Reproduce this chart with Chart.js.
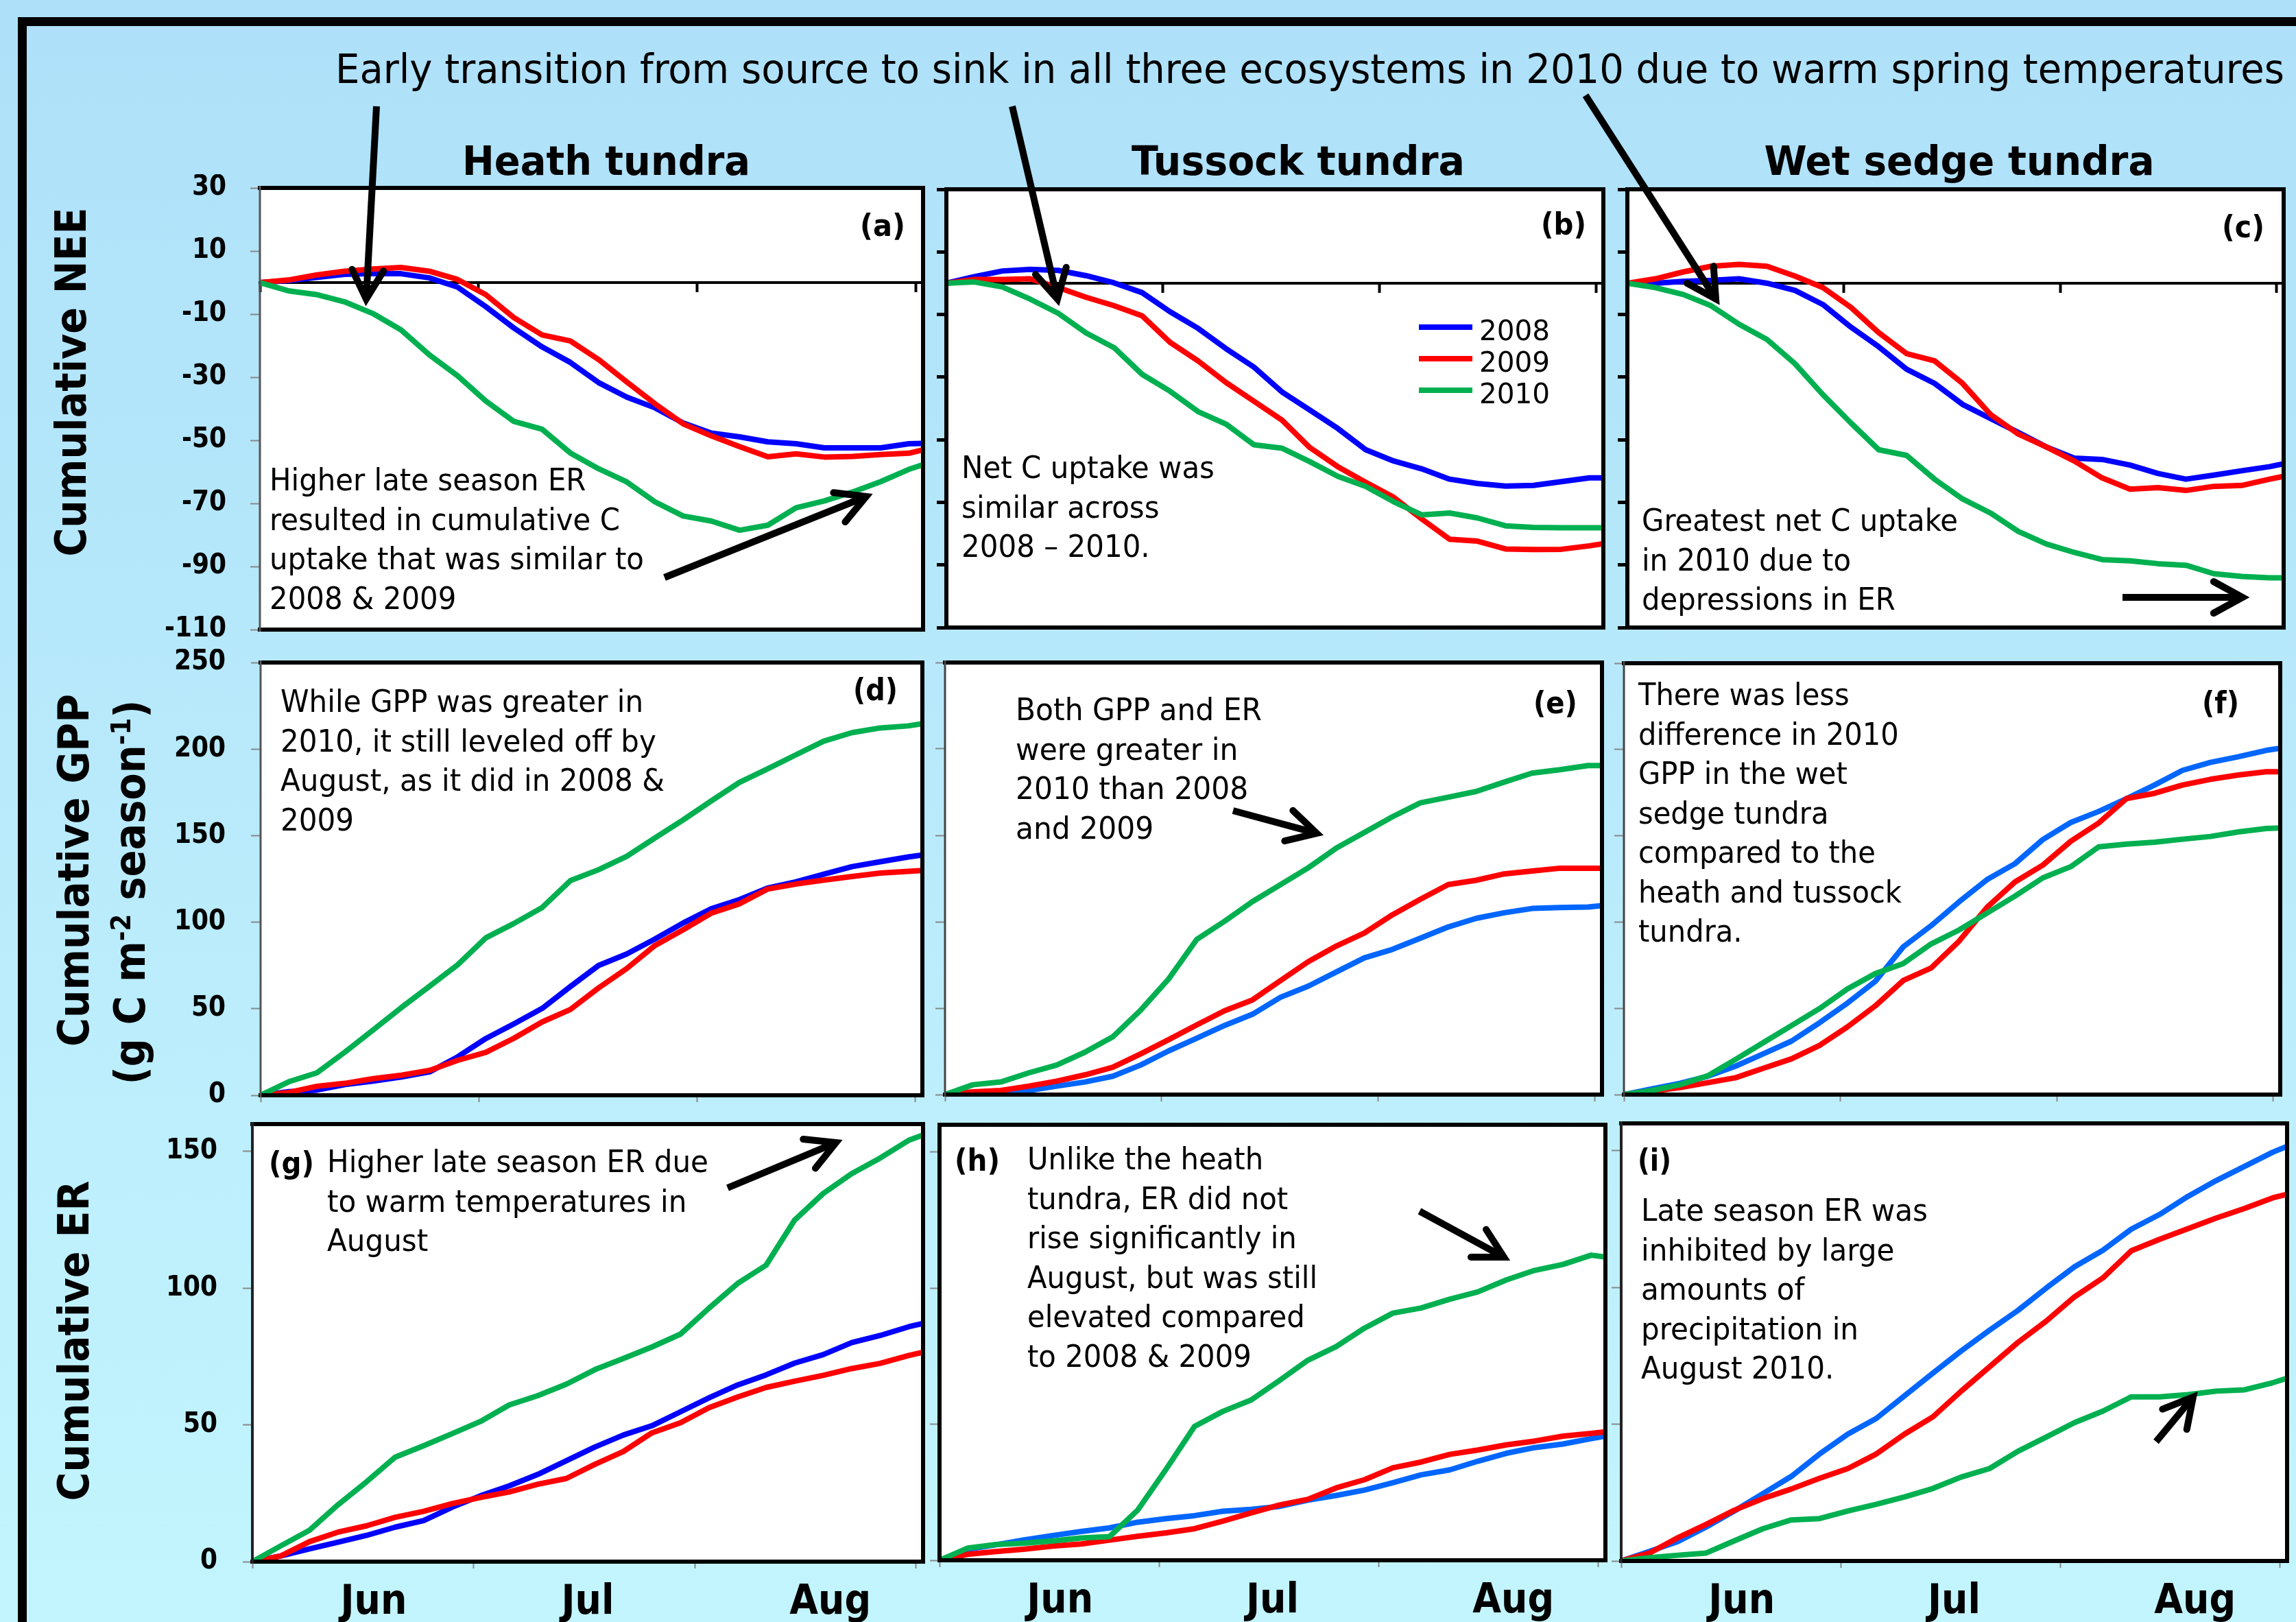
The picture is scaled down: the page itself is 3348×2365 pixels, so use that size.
<!DOCTYPE html>
<html>
<head>
<meta charset="utf-8">
<script src="https://cdn.jsdelivr.net/npm/chart.js@4.4.1/dist/chart.umd.min.js"></script>
<style>
html,body{margin:0;padding:0;}
body{width:3348px;height:2365px;overflow:hidden;position:relative;background:linear-gradient(to bottom,#aee0f9,#c3f5fe);}
.frame{position:absolute;left:26px;top:25px;width:4000px;height:4000px;border-left:13px solid #000;border-top:13px solid #000;}
canvas{position:absolute;}
.t{position:absolute;white-space:pre;color:#000;transform-origin:0 0;}
.sw{position:absolute;height:8px;}
</style>
</head>
<body>
<div class="frame"></div>
<div id="charts"></div>
<svg id="arrows" width="3348" height="2365" style="position:absolute;left:0;top:0;"></svg>
<script>
// ---------------- DATA ----------------
const days = [0,4,8,12,16,20,24,28,32,36,40,44,48,52,56,60,64,68,72,76,80,84,88,92,94];
const years = ['2008','2009','2010'];
const monthNames = ['Jun','Jul','Aug'];
const monthPos = [17,47,81];
const monthTicks = [0,31,62,93];
const neeTicks = [30,10,-10,-30,-50,-70,-90,-110];
const gppTicks = [0,50,100,150,200,250];
const erTicks = [0,50,100,150];

// Cumulative NEE
const heathNEE2008 = [0,0.6,1.6,2.6,2.9,2.8,1.5,-1.4,-7.6,-14.4,-20.4,-25.3,-31.7,-36.3,-39.7,-44.5,-47.7,-48.9,-50.5,-51.1,-52.4,-52.4,-52.4,-51.1,-51];
const heathNEE2009 = [0,0.8,2.4,3.6,4.3,4.8,3.6,1.0,-3.8,-11.1,-16.6,-18.5,-24.4,-31.5,-38.4,-44.8,-48.6,-52,-55.2,-54.3,-55.3,-55.1,-54.5,-54.1,-53];
const heathNEE2010 = [0,-2.6,-3.8,-6.1,-9.8,-15,-22.9,-29.5,-37.5,-44,-46.5,-54,-59,-63.2,-69.5,-74,-75.6,-78.5,-76.9,-71.4,-69.2,-66.4,-63.1,-59.2,-57.7];
const tussockNEE2008 = [0,2.1,3.9,4.4,4.1,2.4,0.1,-3,-9.1,-14.4,-20.9,-26.8,-34.7,-40.5,-46.4,-53.2,-56.8,-59.3,-62.6,-64,-64.8,-64.6,-63.4,-62.2,-62.2];
const tussockNEE2009 = [0,1.2,1.2,1.4,-1.4,-4.5,-7.2,-10.4,-18.9,-24.8,-31.7,-37.7,-43.7,-52.5,-58.6,-63.6,-68.4,-75.3,-81.8,-82.4,-84.9,-85.1,-85,-83.9,-83.2];
const tussockNEE2010 = [0,0.4,-1.2,-5.1,-9.6,-15.9,-20.6,-29.1,-34.5,-41,-45,-51.6,-52.7,-57,-61.7,-64.9,-69.8,-74,-73.4,-75,-77.5,-78,-78.1,-78.1,-78.1];
const sedgeNEE2008 = [0,0,0.6,0.9,1.4,0,-2.3,-6.8,-14,-20.3,-27.5,-32,-38.7,-43.2,-47.7,-52.3,-55.9,-56.3,-58.1,-60.8,-62.6,-61.3,-59.9,-58.6,-57.7];
const sedgeNEE2009 = [0,1.4,3.6,5.4,6,5.4,2.3,-1.4,-7.7,-15.8,-22.5,-24.8,-32,-41.9,-48.2,-52.3,-56.8,-62.2,-65.8,-65.3,-66.2,-64.9,-64.6,-62.6,-61.7];
const sedgeNEE2010 = [0,-1.4,-3.6,-7.2,-13.1,-18,-25.7,-35.6,-44.6,-53.2,-55,-62.6,-68.9,-73.4,-79.3,-83.3,-86,-88.3,-88.7,-89.6,-90.1,-92.8,-93.7,-94.1,-94.1];

// Cumulative GPP
const heathGPP2008 = [0,2.1,3,6.2,8.2,10.6,13.5,22.2,32.8,41.3,50.2,62.8,75,81.6,90.2,99.5,107.7,113,119.7,123.3,127.7,132.1,134.9,137.7,138.8];
const heathGPP2009 = [0,1.6,5.2,6.9,9.6,11.6,14.4,20.2,24.8,33,42.4,49.6,62,73.2,86.5,95.6,105.2,110.6,119.1,122,124.3,126.4,128.4,129.4,129.9];
const heathGPP2010 = [0,7.8,13,25,37.8,50.7,63,75.4,91,99.3,108.5,124,130.3,138,148.6,159,170,180.7,188.5,196.6,204.6,209.5,212.2,213.4,214.7];
const tussockGPP2008 = [0,0,0.8,2.4,4.9,7.3,10.6,17.1,25.3,32.6,40,46.5,56.3,62.8,71,79.1,84,90.5,97,102,105.2,107.7,108.2,108.5,109.3];
const tussockGPP2009 = [0,1.6,2.4,4.9,7.8,11.4,15.8,23.6,31.8,40.3,48.5,54.8,66,77,86,93.5,104,113,121.5,124,127.7,129.4,131,131,131];
const tussockGPP2010 = [0,5.7,7.3,12.6,17.1,24.5,33.4,48.9,66.9,89.7,100.3,111.7,121.5,131.3,142.7,151.7,160.7,168.8,172.1,175.4,180.8,186,188,190.4,190.4];
const sedgeGPP2008 = [0,3.3,6.5,10.6,16.5,23.7,31,41.6,53,65.6,85.6,97.9,111.7,124.6,133.8,147.8,157.7,164.1,171.6,179.4,187.9,192.5,195.8,199.5,200.7];
const sedgeGPP2009 = [0,2,4.1,6.9,9.8,15.3,20.7,28.5,39.2,51.4,66.1,73.4,88.9,108.5,123.2,133,146.8,157.4,171.6,174.6,179.4,182.7,185.2,187.1,187.1];
const sedgeGPP2010 = [0,2.4,5.7,10.9,20.4,30.2,40,49.8,61.2,70.1,75.9,87.3,95.4,105.2,115,125.6,132.1,143.6,145.2,146.3,148,149.6,152.2,154.2,154.5];

// Cumulative ER
const heathER2008 = [0,2.1,4.7,7.1,9.6,12.6,15,19.9,24.1,27.7,31.9,36.9,41.9,46.3,49.7,54.8,59.9,64.6,68.3,72.6,75.7,80.1,82.7,85.9,87.1];
const heathER2009 = [0,2.1,7.3,10.8,13.1,16.2,18.4,21.2,23.5,25.5,28.3,30.4,35.6,40.3,47.1,50.8,56.3,60.2,63.7,66,68.1,70.6,72.5,75.4,76.6];
const heathER2010 = [0,5.8,11.5,20.8,29.2,38.2,42.4,46.8,51.3,57.3,60.7,64.9,70.2,74.3,78.5,83.2,92.7,101.7,108.4,124.9,134.6,141.9,147.6,154.1,156];
const tussockER2008 = [0,4,5.7,7.5,9.1,10.6,11.9,14,15.3,16.4,18,18.7,19.8,22.1,23.8,25.8,28.5,31.4,33.2,36.4,39.3,41.4,42.7,44.7,45.6];
const tussockER2009 = [0,2.2,3.2,4.1,5.2,6,7.4,8.8,10.1,11.6,14.4,17.4,20.3,22.4,26.6,29.6,34,36.1,38.9,40.5,42.4,43.8,45.6,46.6,47.2];
const tussockER2010 = [0,4.5,5.8,6.3,7.1,8.2,8.7,18.5,33.5,49.2,54.7,58.9,66.1,73.5,78.5,85.3,90.8,92.7,95.9,98.6,103,106.5,108.7,112.1,111.4];
const sedgeER2008 = [0,3.5,7.1,12.4,18.3,24.6,30.9,39.1,46.4,52.1,60.4,68.7,76.8,84.4,91.6,99.8,107.6,113.6,121.3,126.7,133.3,139.1,144.3,149.5,151.6];
const sedgeER2009 = [0,2.9,8.5,13.4,18.6,22.8,26.3,30.2,33.8,39.1,46.4,52.7,62.1,71,79.9,87.7,96.6,103.5,113.4,117.6,121.5,125.4,128.9,132.8,134.1];
const sedgeER2010 = [0,1.2,2.1,2.9,7.4,11.8,15,15.5,18.3,20.7,23.4,26.5,30.7,33.8,40.1,45.3,50.6,54.8,60,60,60.8,62.1,62.6,65.2,66.8];

// ---------------- LAYOUT ----------------
const FONT = "'DejaVu Sans Condensed','DejaVu Sans',sans-serif";
const GREEN = '#00b050', RED = '#ff0000';
const rowY = [
  {min:-110, max:30, ticks:neeTicks},
  {min:0, max:250, ticks:gppTicks},
  {min:0, max:160, ticks:erTicks}
];
const panels = [
  {L:379, T:274, R:1346, B:918, row:0, col:0, series:[heathNEE2008,heathNEE2009,heathNEE2010], blue:'#0000ff', leftW:3, leftC:'#555'},
  {L:1380,T:276, R:2338, B:915, row:0, col:1, series:[tussockNEE2008,tussockNEE2009,tussockNEE2010], blue:'#0000ff', leftW:6, leftC:'#000'},
  {L:2373,T:276, R:3330, B:915, row:0, col:2, series:[sedgeNEE2008,sedgeNEE2009,sedgeNEE2010], blue:'#0000ff', leftW:6, leftC:'#000'},
  {L:380, T:966, R:1345, B:1597,row:1, col:0, series:[heathGPP2008,heathGPP2009,heathGPP2010], blue:'#0000ff', leftW:3, leftC:'#555'},
  {L:1378,T:966, R:2336, B:1596,row:1, col:1, series:[tussockGPP2008,tussockGPP2009,tussockGPP2010], blue:'#0066ff', leftW:3, leftC:'#444'},
  {L:2368,T:967, R:3325, B:1596,row:1, col:2, series:[sedgeGPP2008,sedgeGPP2009,sedgeGPP2010], blue:'#0066ff', leftW:3, leftC:'#444'},
  {L:368, T:1639,R:1346, B:2277,row:2, col:0, series:[heathER2008,heathER2009,heathER2010], blue:'#0000ff', leftW:4, leftC:'#222'},
  {L:1370,T:1640,R:2341, B:2275,row:2, col:1, series:[tussockER2008,tussockER2009,tussockER2010], blue:'#0066ff', leftW:6, leftC:'#000'},
  {L:2364,T:1638,R:3335, B:2276,row:2, col:2, series:[sedgeER2008,sedgeER2009,sedgeER2010], blue:'#0066ff', leftW:4, leftC:'#222'}
];

const framePlugin = {
  id: 'panelFrame',
  beforeDraw(chart) {
    const {ctx, chartArea: c} = chart;
    ctx.save(); ctx.fillStyle = '#fff';
    ctx.fillRect(c.left, c.top, c.right - c.left, c.bottom - c.top);
    ctx.restore();
  },
  afterDraw(chart, args, o) {
    const {ctx, chartArea: c} = chart;
    ctx.save();
    ctx.strokeStyle = '#000'; ctx.lineWidth = 6; ctx.lineCap = 'square';
    ctx.beginPath();
    ctx.moveTo(c.left, c.top); ctx.lineTo(c.right, c.top);
    ctx.lineTo(c.right, c.bottom); ctx.lineTo(c.left, c.bottom);
    ctx.stroke();
    ctx.strokeStyle = o.leftC; ctx.lineWidth = o.leftW; ctx.lineCap = 'butt';
    ctx.beginPath(); ctx.moveTo(c.left, c.top - 3); ctx.lineTo(c.left, c.bottom + 3); ctx.stroke();
    ctx.restore();
  }
};

function noPad(s) { s.paddingTop = 0; s.paddingBottom = 0; s.paddingLeft = 0; s.paddingRight = 0; }

function build(p) {
  const ML = p.col === 0 ? 360 : 40, MT = 20, MR = 20;
  const MB = p.row === 2 ? 2365 - p.B : 30;
  const W = p.R - p.L + ML + MR, H = p.B - p.T + MT + MB;
  const cv = document.createElement('canvas');
  cv.width = W; cv.height = H;
  Object.assign(cv.style, {left:(p.L - ML) + 'px', top:(p.T - MT) + 'px', width:W + 'px', height:H + 'px'});
  document.getElementById('charts').appendChild(cv);
  const yr = rowY[p.row];
  const isNEE = p.row === 0;
  const darkY = isNEE && p.col > 0;
  const scales = {
    x: {
      type:'linear', min:0, max:94, position: isNEE ? {y:0} : 'bottom', weight:0,
      afterBuildTicks: s => { s.ticks = monthTicks.map(v => ({value:v})); },
      afterFit: s => { noPad(s); if (!isNEE) s.height = (p.row === 2 ? 14 : MB); },
      grid: {drawOnChartArea:false, drawTicks:true, tickLength: isNEE ? 12 : 10, tickWidth: isNEE ? 4 : 2, tickColor: isNEE ? '#000' : '#888'},
      border: {display:true, color: isNEE ? '#000' : '#888', width: isNEE ? 4 : 2},
      ticks: {display:false}
    },
    y: {
      type:'linear', min:yr.min, max:yr.max, position:'left',
      afterBuildTicks: s => { s.ticks = yr.ticks.map(v => ({value:v})); },
      afterFit: s => { noPad(s); s.width = ML; },
      grid: {drawOnChartArea:false, drawTicks:true, tickLength:14, tickWidth: darkY ? 5 : 2, tickColor: darkY ? '#000' : '#888'},
      border: {display:false},
      ticks: {display: p.col === 0, autoSkip:false, padding: p.row === 0 ? 35 : 37, color:'#000',
              font:{family:FONT, size:40, weight:'bold'}}
    }
  };
  if (p.row === 2) {
    scales.xm = {
      type:'linear', axis:'x', min:0, max:94, position:'bottom', weight:1,
      afterBuildTicks: s => { s.ticks = monthPos.map(v => ({value:v})); },
      afterFit: s => { noPad(s); s.height = MB - 14; },
      grid: {display:false, drawTicks:false, tickLength:0},
      border: {display:false},
      ticks: {autoSkip:false, maxRotation:0, padding:10, color:'#000',
              font:{family:FONT, size:60, weight:'bold'},
              callback: (v, i) => monthNames[i]}
    };
  }
  new Chart(cv, {
    type:'line',
    data: {
      datasets: p.series.map((arr, k) => ({
        label: years[k],
        data: arr.map((v, i) => ({x: days[i], y: v})),
        borderColor: k === 0 ? p.blue : (k === 1 ? RED : GREEN),
        borderWidth: 8, pointRadius: 0, tension: 0, fill: false,
        borderJoinStyle:'round', borderCapStyle:'round',
        order: 2 - k
      }))
    },
    options: {
      responsive:false, animation:false, devicePixelRatio:1,
      layout: {padding: {top:MT, right:MR, left:0, bottom: isNEE ? MB : 0}},
      plugins: {legend:{display:false}, tooltip:{enabled:false}, panelFrame:{leftW:p.leftW, leftC:p.leftC}},
      scales
    },
    plugins:[framePlugin]
  });
}
panels.forEach(build);

// ---------------- TEXT ----------------
function addText(html, o) {
  const d = document.createElement('div');
  d.className = 't';
  d.innerHTML = html;
  const lh = o.lh || o.size;
  d.style.font = (o.bold ? 'bold ' : '') + o.size + 'px ' + FONT;
  d.style.lineHeight = lh + 'px';
  document.body.appendChild(d);
  const w = d.getBoundingClientRect().width;
  const s = o.w ? o.w / w : 1;
  if (o.rot) {
    d.style.left = o.x + 'px'; d.style.top = o.y + 'px';
    d.style.transformOrigin = '50% 50%';
    d.style.transform = 'translate(-50%,-50%) rotate(-90deg) scaleX(' + s + ')';
    return;
  }
  const top = o.base - ((lh - 1.164 * o.size) / 2 + 0.928 * o.size);
  d.style.top = top + 'px';
  d.style.left = o.x + 'px';
  if (o.center) {
    d.style.transformOrigin = '50% 0';
    d.style.transform = 'translateX(-50%) scaleX(' + s + ')';
  } else {
    d.style.transform = 'scaleX(' + s + ')';
  }
}

addText('Early transition from source to sink in all three ecosystems in 2010 due to warm spring temperatures', {size:58, x:489, base:121, w:2842});
addText('Heath tundra', {size:58, bold:true, x:884, base:255, w:420, center:true});
addText('Tussock tundra', {size:58, bold:true, x:1893, base:255, w:486, center:true});
addText('Wet sedge tundra', {size:58, bold:true, x:2857, base:255, w:569, center:true});

const A = {size:44, lh:57.5};
addText('Higher late season ER\nresulted in cumulative C\nuptake that was similar to\n2008 &amp; 2009', {...A, x:393, base:715, w:546});
addText('Net C uptake was\nsimilar across\n2008 \u2013 2010.', {...A, x:1402, base:697, w:369});
addText('Greatest net C uptake\nin 2010 due to\ndepressions in ER', {...A, x:2394, base:774, w:461});
addText('While GPP was greater in\n2010, it still leveled off by\nAugust, as it did in 2008 &amp;\n2009', {...A, x:409, base:1038, w:560});
addText('Both GPP and ER\nwere greater in\n2010 than 2008\nand 2009', {...A, x:1481, base:1050, w:359});
addText('There was less\ndifference in 2010\nGPP in the wet\nsedge tundra\ncompared to the\nheath and tussock\ntundra.', {...A, x:2389, base:1028, w:384});
addText('Higher late season ER due\nto warm temperatures in\nAugust', {...A, x:477, base:1709, w:556});
addText('Unlike the heath\ntundra, ER did not\nrise significantly in\nAugust, but was still\nelevated compared\nto 2008 &amp; 2009', {...A, x:1498, base:1705, w:423});
addText('Late season ER was\ninhibited by large\namounts of\nprecipitation in\nAugust 2010.', {...A, x:2393, base:1780, w:418});

const panelLabels = [
  ['(a)',1254,330,66],['(b)',2247,328,66],['(c)',3240,332,62],
  ['(d)',1244,1007,65],['(e)',2236,1026,64],['(f)',3211,1026,54],
  ['(g)',392,1697,66],['(h)',1392,1693,66],['(i)',2388,1693,49]
];
panelLabels.forEach(l => addText(l[0], {size:44, bold:true, x:l[1], base:l[2] + 14, w:l[3]}));

// legend (panel b)
const legendColors = ['#0000ff', RED, GREEN];
[481, 527, 573].forEach((cy, k) => {
  const sw = document.createElement('div');
  sw.className = 'sw';
  Object.assign(sw.style, {left:'2069px', top:(cy - 8) + 'px', width:'78px', background:legendColors[k]});
  document.body.appendChild(sw);
  addText(years[k], {size:40, x:2157, base:cy + 15, w:103});
});

// y titles
addText('Cumulative NEE', {size:62, bold:true, rot:true, x:103.5, y:557, w:509});
addText('Cumulative GPP', {size:62, bold:true, rot:true, x:107.5, y:1269, w:514});
addText('(g C m<sup style="font-size:0.62em;vertical-align:0.55em;line-height:0">-2</sup> season<sup style="font-size:0.62em;vertical-align:0.55em;line-height:0">-1</sup>)', {size:62, bold:true, rot:true, x:189.5, y:1301, w:561});
addText('Cumulative ER', {size:62, bold:true, rot:true, x:107.5, y:1955, w:467});

// ---------------- ARROWS ----------------
const arrowSegments = [
  [549,155,534,436],[1476,155,1542,436],[2312,139,2502,436],
  [969,842,1263,724],[3095,871,3270,871],[1798,1182,1920,1215],
  [1061,1732,1219,1666],[2070,1766,2193,1833],[3144,2102,3198,2037]
];
let svg = '';
arrowSegments.forEach(([x1,y1,x2,y2]) => {
  const a = Math.atan2(y2 - y1, x2 - x1), L = 48, w = 0.5;
  const p1 = [x2 - L * Math.cos(a - w), y2 - L * Math.sin(a - w)];
  const p2 = [x2 - L * Math.cos(a + w), y2 - L * Math.sin(a + w)];
  const ex = x2 - 6 * Math.cos(a), ey = y2 - 6 * Math.sin(a);
  svg += `<line x1="${x1}" y1="${y1}" x2="${ex}" y2="${ey}" stroke="#000" stroke-width="10"/>`;
  svg += `<polyline points="${p1[0]},${p1[1]} ${x2},${y2} ${p2[0]},${p2[1]}" fill="none" stroke="#000" stroke-width="10" stroke-linejoin="miter" stroke-linecap="round"/>`;
});
document.getElementById('arrows').innerHTML = svg;
</script>
</body>
</html>
